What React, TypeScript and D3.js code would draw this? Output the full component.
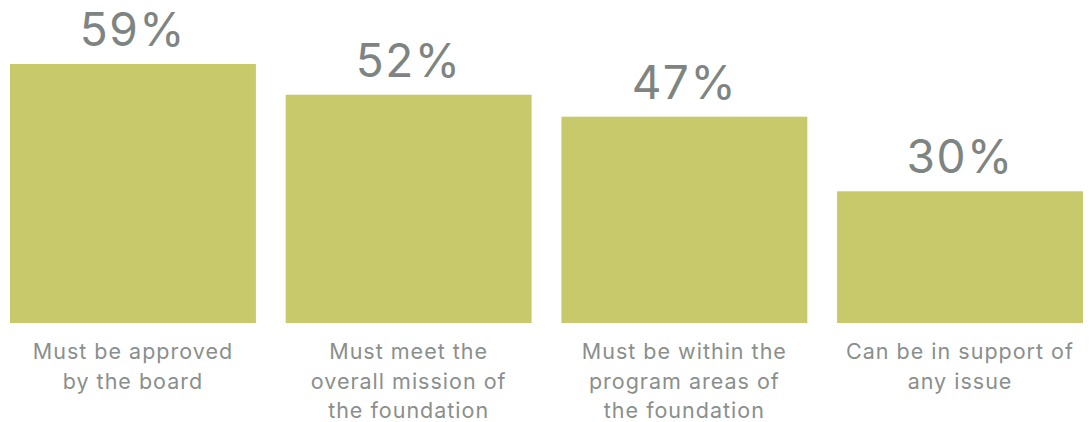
import React from "react";
import * as d3 from "d3";

const categories: string[][] = [
  ["Must be approved", "by the board"],
  ["Must meet the", "overall mission of", "the foundation"],
  ["Must be within the", "program areas of", "the foundation"],
  ["Can be in support of", "any issue"],
];
const values: number[] = [59, 52, 47, 30];

const W = 1089;
const H = 422;

export default function App() {
  const x = d3
    .scaleBand<number>()
    .domain(values.map((_, i) => i))
    .range([10, 1083])
    .paddingInner(0.108)
    .paddingOuter(0);
  const y = d3.scaleLinear().domain([0, 59]).range([323, 64]);
  const font = "Inter, 'Open Sans', sans-serif";
  return (
    <svg
      width={W}
      height={H}
      style={{ position: "absolute", left: 0, top: 0, background: "#fff" }}
    >
      {values.map((v, i) => {
        const bx = x(i)!;
        const cx = bx + x.bandwidth() / 2;
        return (
          <g key={i}>
            <rect
              x={bx}
              y={y(v)}
              width={x.bandwidth()}
              height={y(0) - y(v)}
              fill="#c8c96a"
            />
            <text
              x={cx}
              y={y(v) - 18}
              textAnchor="middle"
              fontFamily={font}
              fontSize={46}
              letterSpacing={1.5}
              fill="#7e8481"
            >
              {v}%
            </text>
            {categories[i].map((line, j) => (
              <text
                key={j}
                x={cx}
                y={359 + j * 29.5}
                textAnchor="middle"
                fontFamily={font}
                fontSize={21.5}
                letterSpacing={1}
                fill="#8a8f8c"
              >
                {line}
              </text>
            ))}
          </g>
        );
      })}
    </svg>
  );
}
